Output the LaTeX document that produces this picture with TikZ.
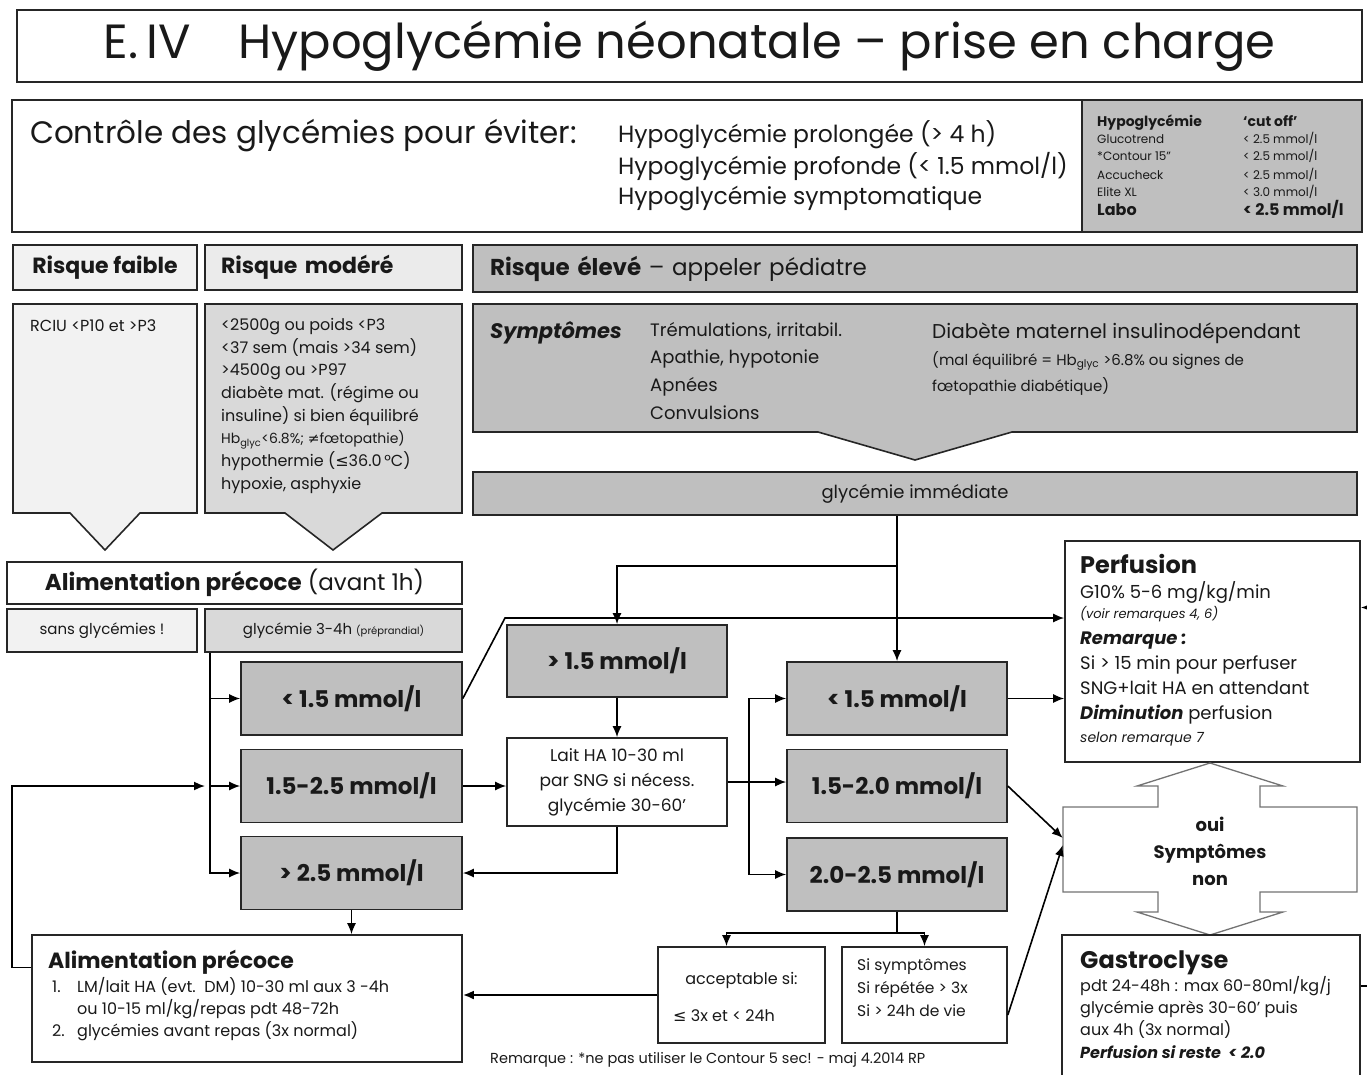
\documentclass[tikz,border=0pt]{standalone}
\usepackage{fontspec}
\setmainfont{Poppins}
\newfontfamily\dvs{DejaVu Sans}
\usepackage{tikz}
\usetikzlibrary{arrows.meta}
\usetikzlibrary{positioning}

\newcommand{\fs}[2]{\fontsize{#1}{#2}\selectfont}

\begin{document}
\begin{tikzpicture}[x=1pt, y=-1pt,
    every node/.style={inner sep=0pt, text=black!90},
    bx/.style={draw=black!85, line width=1.6pt},
    gris/.style={bx, fill=black!25, minimum width=221pt, minimum height=73pt, font=\bfseries\fs{23}{27}},
    fl/.style={-{Latex[length=11pt,width=9pt]}, line width=1.6pt},
    txt/.style={anchor=base west}]
  \useasboundingbox (0,0) rectangle (1367,1075);
  \clip (0,0) rectangle (1367,1075);

  % titre
  \node[bx, minimum width=1345pt, minimum height=72pt, font=\fs{48}{52}] (titre) at (689.5,46) {E.\,IV\hspace{48pt}Hypoglycémie néonatale – prise en charge};

  % controle + tableau
  \node[bx, minimum width=1350pt, minimum height=132pt] (ctrl) at (687,166) {};
  \node[bx, fill=black!25, minimum width=280pt, minimum height=132pt] (tab) at (1222,166) {};
  \node[txt, font=\fs{31}{36}] (ctxt) at (30,144) {Contrôle des glycémies pour éviter:};
  \node[txt, font=\fs{23.5}{27}] (h1) at (618,143) {Hypoglycémie prolongée (> 4 h)};
  \node[txt, font=\fs{23.5}{27}] (h2) at (618,175) {Hypoglycémie profonde (< 1.5 mmol/l)};
  \node[txt, font=\fs{23.5}{27}] (h3) at (618,205) {Hypoglycémie symptomatique};
  \node[txt, font=\bfseries\fs{14}{16}] at (1097,127) {Hypoglycémie};
  \node[txt, font=\bfseries\fs{14}{16}] at (1243,127) {`cut off'};
  \foreach \n/\v/\y in {Glucotrend/{< 2.5 mmol/l}/144, {*Contour 15''}/{< 2.5 mmol/l}/161,
      Accucheck/{< 2.5 mmol/l}/180, Elite XL/{< 3.0 mmol/l}/197} {
    \node[txt, font=\fs{12}{14}] at (1097,\y) {\n};
    \node[txt, font=\fs{12}{14}] at (1243,\y) {\v};
  }
  \node[txt, font=\bfseries\fs{16}{18}] at (1097,216) {Labo};
  \node[txt, font=\bfseries\fs{16}{18}] at (1243,216) {< 2.5 mmol/l};

  % niveaux de risque
  \node[bx, fill=black!5, minimum width=184pt, minimum height=45pt, font=\bfseries\fs{22}{26}] (faible) at (105,267.5) {Risque faible};
  \node[bx, fill=black!8, minimum width=257pt, minimum height=45pt, text width=225pt, align=left, font=\bfseries\fs{22}{26}] (modere) at (333.5,267.5) {Risque modéré};
  \node[bx, fill=black!25, minimum width=884pt, minimum height=47pt, text width=850pt, align=left, font=\fs{23}{27}] (eleve) at (915,268.5) {\textbf{Risque élevé} – appeler pédiatre};

  \draw[bx, fill=black!5] (13,304) -- (197,304) -- (197,513) -- (140,513) -- (105,550) -- (70,513) -- (13,513) -- cycle;
  \node[txt, font=\fs{16}{19}] (ftxt) at (30,331) {RCIU <P10 et >P3};
  \draw[bx, fill=black!15] (205,304) -- (462,304) -- (462,513) -- (382,513) -- (333,550) -- (285,513) -- (205,513) -- cycle;
  \node[anchor=north west, align=left, font=\fs{16}{22.7}] (mtxt) at (221,318) {<2500g ou poids <P3\\<37 sem (mais >34 sem)\\>4500g ou >P97\\diabète mat. (régime ou\\insuline) si bien équilibré\\{\fs{14}{16}Hb\textsubscript{glyc}<6.8\%; {\dvs ≠}fœtopathie)}\\hypothermie ({\dvs ≤}36.0\,°C)\\hypoxie, asphyxie};

  \draw[bx, fill=black!25] (473,304) -- (1357,304) -- (1357,432) -- (1012,432) -- (915,460) -- (818,432) -- (473,432) -- cycle;
  \node[txt, font=\bfseries\itshape\fs{21}{24}] (stit) at (490,338) {Symptômes};
  \node[anchor=north west, align=left, font=\fs{18}{27.7}] (sliste) at (650,322) {Trémulations, irritabil.\\Apathie, hypotonie\\Apnées\\Convulsions};
  \node[txt, font=\fs{20}{24}] (diab) at (932,338) {Diabète maternel insulinodépendant};
  \node[txt, font=\fs{15}{18}] at (932,365) {(mal équilibré = Hb\textsubscript{glyc} >6.8\% ou signes de};
  \node[txt, font=\fs{15}{18}] at (932,391) {fœtopathie diabétique)};

  \node[bx, fill=black!25, minimum width=884pt, minimum height=43pt, font=\fs{18}{22}] (gim) at (915,493.5) {glycémie immédiate};

  % alimentation precoce
  \node[bx, fill=white, minimum width=455pt, minimum height=42pt, font=\fs{23}{27}] (alim1) at (234.5,583) {\textbf{Alimentation précoce} (avant 1h)};
  \node[bx, fill=black!5, minimum width=190pt, minimum height=43pt, font=\fs{15}{18}] (sans) at (102,630.5) {sans glycémies !};
  \node[bx, fill=black!15, minimum width=257pt, minimum height=43pt, font=\fs{15}{18}] (g34) at (333.5,630.5) {glycémie 3-4h {\fs{10}{12}(préprandial)}};

  \node[gris] (l1) at (351.5,698.5) {< 1.5 mmol/l};
  \node[gris] (l2) at (351.5,786) {1.5-2.5 mmol/l};
  \node[gris] (l3) at (351.5,873) {> 2.5 mmol/l};

  \node[gris, minimum width=220pt, minimum height=72pt] (sup) at (617,661) {> 1.5 mmol/l};
  \node[bx, fill=white, minimum width=220pt, minimum height=88pt, align=center, font=\fs{17}{25}] (lait) at (617,782) {Lait HA 10-30 ml\\par SNG si nécess.\\glycémie 30-60'};

  \node[gris, minimum width=220pt] (r1) at (897,698.5) {< 1.5 mmol/l};
  \node[gris, minimum width=220pt] (r2) at (897,786) {1.5-2.0 mmol/l};
  \node[gris, minimum width=220pt] (r3) at (897,874.5) {2.0-2.5 mmol/l};

  % perfusion
  \node[bx, fill=white, minimum width=295pt, minimum height=221pt] (perf) at (1212.5,651.5) {};
  \node[txt, font=\bfseries\fs{24}{28}] at (1080,573) {Perfusion};
  \node[txt, font=\fs{18}{22}] at (1080,598) {G10\% 5-6 mg/kg/min};
  \node[txt, font=\itshape\fs{13}{16}] at (1080,618) {(voir remarques 4, 6)};
  \node[txt, font=\bfseries\itshape\fs{18}{22}] at (1080,644) {Remarque :};
  \node[txt, font=\fs{18}{22}] at (1080,669) {Si > 15 min pour perfuser};
  \node[txt, font=\fs{18}{22}] at (1080,694) {SNG+lait HA en attendant};
  \node[txt, font=\fs{18}{22}] at (1080,719) {\textbf{\itshape Diminution} perfusion};
  \node[txt, font=\itshape\fs{14}{17}] at (1080,742) {selon remarque 7};

  % symptomes oui / non
  \draw[draw=black!55, line width=1.3pt, fill=white] (1063,807) -- (1158,807) -- (1158,786) -- (1137,786) -- (1210,763) -- (1283,786) -- (1260,786) -- (1260,807) -- (1357,807) -- (1357,892) -- (1260,892) -- (1260,912) -- (1283,912) -- (1210,935) -- (1137,912) -- (1158,912) -- (1158,892) -- (1063,892) -- cycle;
  \node[minimum width=294pt, minimum height=85pt, align=center, font=\bfseries\fs{18}{27}] (sym) at (1210,851) {oui\\Symptômes\\non};

  % gastroclyse
  \node[bx, fill=white, minimum width=298pt, minimum height=150pt] (gastro) at (1211,1010) {};
  \node[txt, font=\bfseries\fs{24}{28}] at (1080,968) {Gastroclyse};
  \node[txt, font=\fs{16}{19}] at (1080,991) {pdt 24-48h : max 60-80ml/kg/j};
  \node[txt, font=\fs{16}{19}] at (1080,1013) {glycémie après 30-60' puis};
  \node[txt, font=\fs{16}{19}] at (1080,1035) {aux 4h (3x normal)};
  \node[txt, font=\bfseries\itshape\fs{16}{19}] at (1080,1058) {Perfusion si reste \ < 2.0};

  % acceptable / si symptomes
  \node[bx, fill=white, minimum width=167pt, minimum height=96pt] (acc) at (741.5,995) {};
  \node[font=\fs{16}{19}] at (741.5,980) {acceptable si:};
  \node[txt, font=\fs{16}{19}] at (673,1021) {{\dvs ≤} 3x et < 24h};
  \node[bx, fill=white, minimum width=165pt, minimum height=96pt] (sisym) at (924.5,995) {};
  \node[anchor=north west, align=left, font=\fs{15.5}{23}] at (857,958) {Si symptômes\\Si répétée > 3x\\Si > 24h de vie};

  % alimentation precoce (suite)
  \node[bx, fill=white, minimum width=430pt, minimum height=127pt] (alim2) at (247,998.5) {};
  \node[txt, font=\bfseries\fs{22}{26}] at (48,968) {Alimentation précoce};
  \node[txt, font=\fs{16}{19}] at (52,992) {1.};
  \node[txt, font=\fs{16}{19}] at (77,992) {LM/lait HA (evt.\ \ DM) 10-30 ml aux 3 -4h};
  \node[txt, font=\fs{16}{19}] at (77,1014) {ou 10-15 ml/kg/repas pdt 48-72h};
  \node[txt, font=\fs{16}{19}] at (52,1036) {2.};
  \node[txt, font=\fs{16}{19}] at (77,1036) {glycémies avant repas (3x normal)};

  \node[txt, font=\fs{14.5}{17}] (rem) at (490,1063) {Remarque : *ne pas utiliser le Contour 5 sec! - maj 4.2014 RP};

  % fleches
  \coordinate (k1) at (505,618);
  \coordinate (b1) at (897,566);
  \coordinate (j1) at (205,786);

  \foreach \c in {l1,l2,l3}
    \draw[fl] ([xshift=6pt]g34.south west) |- (\c.west);
  \draw[fl] ([yshift=31pt]alim2.west) -- ++(-19,0) |- (j1);
  \draw[fl] (l1.east) -- (k1) -- (k1 -| perf.west);
  \draw[fl] (gim.south -| r1.north) -- (r1.north);
  \draw[fl] (b1) -| (sup.north);
  \draw[fl] (sup) -- (lait);
  \draw[fl] (l2.east) -- (l2.east -| lait.west);
  \draw[fl] (lait.south) |- (l3.east);
  \draw[fl] (lait.east) -- ++(21,0) |- (r1.west);
  \draw[fl] (lait.east) -- ++(21,0) |- (r3.west);
  \draw[fl] (lait.east) -- (lait.east -| r2.west);
  \draw[fl] (r1.east) -- (r1.east -| perf.west);
  \draw[fl] (r2.east) -- ([yshift=13pt]sym.west);
  \draw[fl] ([yshift=-20pt]sisym.east) -- ([yshift=6pt]sym.west);
  \draw[fl] (r3.south) -- ++(0,21) -| ([xshift=-15pt]acc.north);
  \draw[fl] (r3.south) -- ++(0,21) -| (sisym.north);
  \draw[fl, line width=2.6pt] (acc.west) -- (acc.west -| alim2.east);
  \draw[fl] (l3.south) -- (l3.south |- alim2.north);
  \draw[fl] ([yshift=24pt]gastro.east) -- ++(8,0) |- ([yshift=44pt]perf.east);
\end{tikzpicture}
\end{document}
